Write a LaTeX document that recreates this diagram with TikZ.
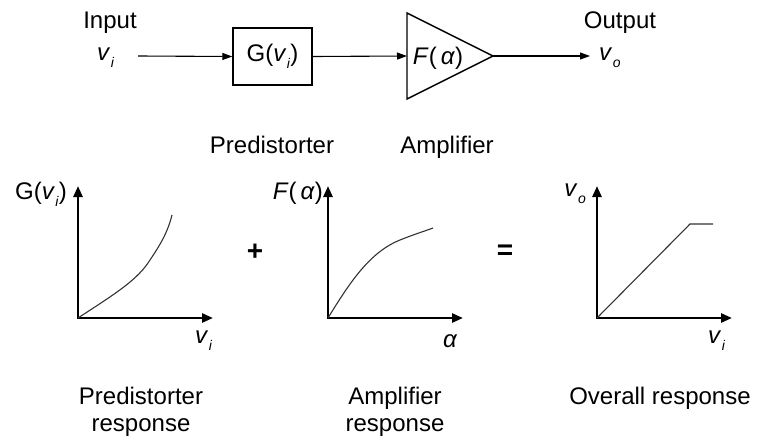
\documentclass[tikz,border=0pt]{standalone}
\usepackage{fontspec}
\setmainfont{Liberation Sans}
\usetikzlibrary{arrows.meta}
\newcommand{\vsym}[1]{\textit{v}\kern0.02em\raisebox{-0.3em}{\fontsize{14}{14}\selectfont\textit{#1}}}
\begin{document}
\begin{tikzpicture}[x=1pt,y=-1pt,
  txt/.style={inner sep=0pt, font=\fontsize{24}{27}\selectfont},
  sig/.style={line width=1.1pt, -{Triangle[length=10pt,width=7pt]}},
  axis/.style={line width=2.6pt, line join=miter, {Triangle[length=11pt,width=9pt]}-{Triangle[length=11pt,width=9pt]}},
  curve/.style={line width=1.1pt, draw=black!80},
  blk/.style={draw, line width=1.4pt}]
\useasboundingbox[fill=white] (0,0) rectangle (771,439);

% top chain
\node[txt, anchor=base] (inlab) at (110,28) {Input};
\node[txt, anchor=base west] (vin) at (97,60) {\vsym{i}};
\coordinate (ain) at (138,56);
\node[txt, blk, minimum width=79pt, minimum height=57pt] (G) at (272.5,56.5) {G(\vsym{i})};
\coordinate (tl) at (407,13);
\coordinate (bl) at (407,99);
\coordinate (tip) at (493,56);
\coordinate (tin) at (407,56);
\draw[blk, line join=miter] (tl) -- (tip) -- (bl) -- cycle;
\node[txt] (F) at (438,58) {\textit{F}(\,\textit{α})};
\draw[sig] (ain) -- (G.west);
\draw[sig] (G.east) -- (tin);
\coordinate (aout) at (590,56);
\draw[sig] (tip) -- (aout);
\node[txt, anchor=base] (outlab) at (620,28) {Output};
\node[txt, anchor=base west] (vout) at (599,60) {\vsym{o}};

\node[txt, anchor=base] (pd) at (272,153) {Predistorter};
\node[txt, anchor=base] (amp) at (447,153) {Amplifier};

% plot 1
\coordinate (o1) at (78,318);
\coordinate (y1) at (78,186);
\coordinate (x1) at (213,318);
\draw[axis] (y1) -- (o1) -- (x1);
\draw[curve] (o1) .. controls (110,297) and (135,282) .. (148,263)
                  .. controls (158,248) and (167,235) .. (172,215);
\node[txt, anchor=base east] (gl) at (67,199) {G(\vsym{i})};
\node[txt, anchor=base west] (xl1) at (195,343) {\vsym{i}};

% plot 2
\coordinate (o2) at (328,318);
\coordinate (y2) at (328,186);
\coordinate (x2) at (463,318);
\draw[axis] (y2) -- (o2) -- (x2);
\draw[curve] (o2) .. controls (350,282) and (370,252) .. (400,240)
                  .. controls (415,234) and (425,231) .. (433,228);
\node[txt, anchor=base east] (fl) at (323,199) {\textit{F}(\,\textit{α})};
\node[txt, anchor=base west] (xl2) at (443,347) {\textit{α}};

% plot 3
\coordinate (o3) at (597,318);
\coordinate (y3) at (597,186);
\coordinate (x3) at (732,318);
\draw[axis] (y3) -- (o3) -- (x3);
\coordinate (k) at (690,224);
\coordinate (e3) at (713,224);
\draw[curve, line join=miter] (o3) -- (k) -- (e3);
\node[txt, anchor=base east] (vl) at (586,196) {\vsym{o}};
\node[txt, anchor=base west] (xl3) at (708,343) {\vsym{i}};

% operators
\node[txt, font=\fontsize{28}{28}\bfseries\selectfont] (plus) at (255,252) {+};
\node[txt, font=\fontsize{28}{28}\bfseries\selectfont] (eq) at (505,252) {=};

% captions
\node[txt, align=center, anchor=north] (r1) at (141,387) {Predistorter\\response};
\node[txt, align=center, anchor=north] (r2) at (395,387) {Amplifier\\response};
\node[txt, align=center, anchor=north] (r3) at (660,387) {Overall response};
\end{tikzpicture}
\end{document}
